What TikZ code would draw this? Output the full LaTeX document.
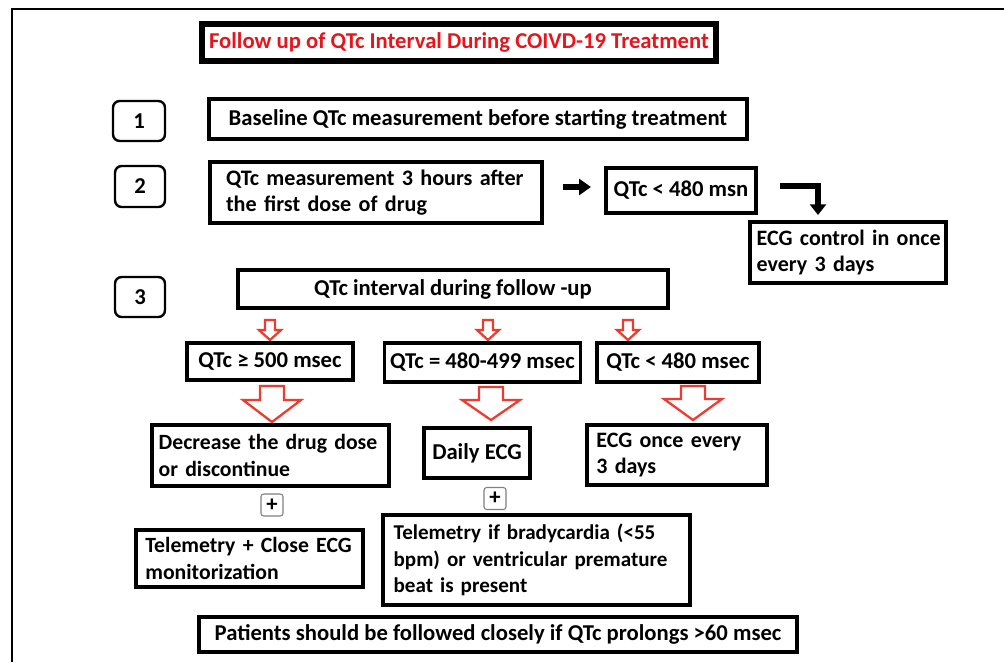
\documentclass[tikz,border=0pt]{standalone}
\usepackage{fontspec}
\setmainfont{Carlito}
\usetikzlibrary{arrows.meta}
\definecolor{titlered}{HTML}{E8141C}
\definecolor{arrowred}{HTML}{EE3B30}
\newcommand{\hollowarrow}[6]{%
  \draw[hollow] ({#1-#4},#2) -- ({#1+#4},#2) -- ({#1+#4},{#3-#6}) -- ({#1+#5},{#3-#6})
    -- (#1,#3) -- ({#1-#5},{#3-#6}) -- ({#1-#4},{#3-#6}) -- cycle;}
\newcommand{\oneline}[1]{\mbox{#1}}
\begin{document}
\begin{tikzpicture}[x=0.75pt,y=-0.75pt,
  txt/.style={font=\bfseries\fontsize{17}{20}\selectfont},
  txtm/.style={font=\bfseries\fontsize{#1}{20}\selectfont},
  box/.style={draw, line width=2.4pt, rectangle, inner xsep=4pt, inner ysep=0pt, txt},
  wh/.style 2 args={minimum width=#1*0.75pt, minimum height=#2*0.75pt},
  ltext/.style 2 args={align=left, text width=#1*0.75pt-2*#2, inner xsep=#2},
  numbox/.style={draw, line width=1.8pt, rounded corners=5pt, inner sep=0pt, txt},
  plusbox/.style={draw=gray, line width=0.8pt, rounded corners=2pt, inner sep=0pt,
    font=\bfseries\fontsize{17}{17}\selectfont, minimum width=22*0.75pt, minimum height=22*0.75pt},
  hollow/.style={draw=arrowred, line width=1.7pt, fill=white, line join=miter},
  blackarrow/.style={line width=4.5pt, -{Triangle[length=9pt,width=12pt]}}
]
\useasboundingbox (0,0) rectangle (1004,662);
\fill[white] (0,0) rectangle (1004,662);
% outer frame
\draw[line width=2.2pt] (12,662) -- (12,9) -- (1004,9);

% title
\node[draw, line width=5pt, inner sep=0pt, wh={514}{37}, txt, text=titlered] (title) at (459,42.5)
  {Follow up of QTc Interval During COIVD-19 Treatment};

% step numbers
\node[numbox, wh={52}{40}] (n1) at (139,121) {1};
\node[numbox, wh={50}{41}] (n2) at (140,186.5) {2};
\node[numbox, wh={50}{40}] (n3) at (140,297) {3};

% step 1
\node[box, wh={538}{40}] (base) at (478,119) {Baseline QTc measurement before starting treatment};

% step 2
\node[box, wh={332}{61}, ltext={332}{12pt}, txtm=16.6] (meas) at (376,192.5)
  {\oneline{QTc measurement 3 hours after}\\\oneline{the first dose of drug}};
\node[box, wh={150}{45}] (q480msn) at (681,190.5) {QTc < 480 msn};
\node[box, wh={196}{61}, ltext={196}{5pt}, txtm=16.5] (ecgctrl) at (848,252.5)
  {\oneline{ECG control in once}\\\oneline{every 3 days}};

\draw[blackarrow] (563,187) -- (591,187);
\draw[line width=5pt, line join=miter, -{Triangle[length=8pt,width=12pt]}] (780,186) -| (818,215);

% step 3
\node[box, wh={430}{38}] (qint) at (453,289) {QTc interval during follow -up};

\hollowarrow{270}{320}{340}{5}{11}{10}
\hollowarrow{488}{320}{340}{5}{11}{10}
\hollowarrow{628}{320}{340}{5}{11}{10}

\node[box, wh={166}{37}] (q500) at (270,361.5) {QTc ≥ 500 msec};
\node[box, wh={189}{39}] (q499) at (482.5,362.5) {QTc = 480-499 msec};
\node[box, wh={162}{39}] (q480) at (678,362.5) {QTc < 480 msec};

\hollowarrow{272}{386}{422}{12}{29}{22}
\hollowarrow{491}{387}{420}{12}{29}{20}
\hollowarrow{693}{386}{420}{12}{29}{21}

\node[box, wh={237}{61}, ltext={237}{5pt}, txtm=16.3] (decr) at (270.5,455.5)
  {\oneline{Decrease the drug dose}\\\oneline{or discontinue}};
\node[box, wh={106}{50}] (daily) at (477,453) {Daily ECG};
\node[box, wh={180}{60}, ltext={180}{7pt}, txtm=16.5] (ecg3) at (677,455)
  {\oneline{ECG once every}\\\oneline{3 days}};

\node[plusbox] (p1) at (272,505) {+};
\node[plusbox] (p2) at (495,498.5) {+};

\node[box, wh={227}{57}, ltext={227}{7pt}, txtm=16.3] (tel1) at (249.5,558.5)
  {\oneline{Telemetry + Close ECG}\\\oneline{monitorization}};
\node[box, wh={307}{90}, ltext={307}{8pt}, txtm=15.8] (tel2) at (536.5,560)
  {\oneline{Telemetry if bradycardia (<55}\\\oneline{bpm) or ventricular premature}\\\oneline{beat is present}};

\node[box, wh={598}{35}] (pat) at (498,634.5) {Patients should be followed closely if QTc prolongs >60 msec};
\end{tikzpicture}
\end{document}
